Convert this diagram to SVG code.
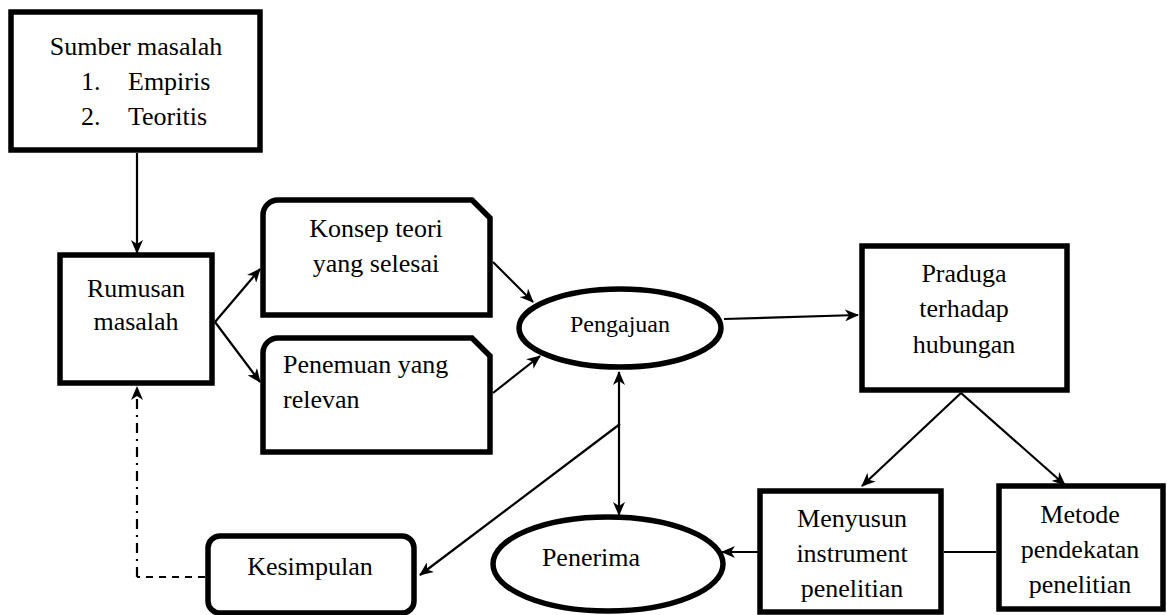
<svg xmlns="http://www.w3.org/2000/svg" width="1167" height="615" viewBox="0 0 1167 615">
  <style>
    .box{fill:#fff;stroke:#000;stroke-width:5.5}
    .c{text-anchor:middle}
    .ln{fill:none;stroke:#000;stroke-width:2.2}
  </style>
  <defs>
    <marker id="ah" viewBox="0 0 14 12" refX="13" refY="6" markerWidth="14" markerHeight="12" markerUnits="userSpaceOnUse" orient="auto-start-reverse">
      <path d="M0,0 L14,6 L0,12 L4,6 Z" fill="#000"/>
    </marker>
  </defs>
  <rect width="1167" height="615" fill="#fff"/>

  <g id="connectors">
    <line class="ln" x1="137" y1="153" x2="137" y2="253" marker-end="url(#ah)"/>
    <line class="ln" x1="215" y1="322" x2="260" y2="269" marker-end="url(#ah)"/>
    <line class="ln" x1="215" y1="322" x2="260" y2="382" marker-end="url(#ah)"/>
    <line class="ln" x1="493" y1="262" x2="533" y2="302" marker-end="url(#ah)"/>
    <line class="ln" x1="493" y1="393" x2="540" y2="356" marker-end="url(#ah)"/>
    <line class="ln" x1="724" y1="319" x2="858" y2="315" marker-end="url(#ah)"/>
    <line class="ln" x1="961" y1="393" x2="862" y2="486" marker-end="url(#ah)"/>
    <line class="ln" x1="961" y1="393" x2="1065" y2="485" marker-end="url(#ah)"/>
    <line class="ln" x1="944" y1="552" x2="996" y2="552"/>
    <line class="ln" x1="758" y1="552" x2="722" y2="552" marker-end="url(#ah)"/>
    <line class="ln" x1="619" y1="372" x2="619" y2="515" marker-start="url(#ah)" marker-end="url(#ah)"/>
    <line class="ln" x1="620" y1="424" x2="420" y2="575" marker-end="url(#ah)"/>
    <line class="ln" x1="205" y1="577" x2="137" y2="577" stroke-dasharray="7,6"/>
    <line class="ln" x1="137" y1="577" x2="137" y2="387" stroke-dasharray="10,6,2,6" marker-end="url(#ah)"/>
  </g>

  <g font-family="Liberation Serif, Times New Roman, serif" font-size="26" fill="#000">
  <g id="sumber">
    <rect class="box" x="11" y="12" width="249" height="138"/>
    <text class="c" x="136" y="55">Sumber masalah</text>
    <text x="81" y="90">1.</text>
    <text x="128" y="90">Empiris</text>
    <text x="81" y="125">2.</text>
    <text x="128" y="125">Teoritis</text>
  </g>

  <g id="rumusan">
    <rect class="box" x="60" y="255" width="152" height="128"/>
    <text class="c" x="136" y="297">Rumusan</text>
    <text class="c" x="136" y="330">masalah</text>
  </g>

  <g id="konsep">
    <path class="box" d="M263,315 L263,215 A15,15 0 0 1 278,200 L472,200 L490,218 L490,315 Z"/>
    <text class="c" x="376" y="237">Konsep teori</text>
    <text class="c" x="376" y="272">yang selesai</text>
  </g>

  <g id="penemuan">
    <path class="box" d="M263,452 L263,353 A15,15 0 0 1 278,338 L472,338 L490,356 L490,452 Z"/>
    <text x="283" y="373">Penemuan yang</text>
    <text x="283" y="408">relevan</text>
  </g>

  <g id="pengajuan">
    <ellipse class="box" cx="620" cy="328" rx="101" ry="39"/>
    <text class="c" x="620" y="332" font-size="24">Pengajuan</text>
  </g>

  <g id="praduga">
    <rect class="box" x="862" y="246" width="205" height="144"/>
    <text class="c" x="964" y="282">Praduga</text>
    <text class="c" x="964" y="317">terhadap</text>
    <text class="c" x="964" y="353">hubungan</text>
  </g>

  <g id="menyusun">
    <rect class="box" x="760" y="491" width="181" height="121"/>
    <text class="c" x="852" y="527">Menyusun</text>
    <text class="c" x="852" y="562">instrument</text>
    <text class="c" x="852" y="597">penelitian</text>
  </g>

  <g id="metode">
    <rect class="box" x="999" y="486" width="164" height="123"/>
    <text class="c" x="1080" y="523">Metode</text>
    <text class="c" x="1080" y="558">pendekatan</text>
    <text class="c" x="1080" y="593">penelitian</text>
  </g>

  <g id="penerima">
    <ellipse class="box" cx="608" cy="564" rx="115" ry="47"/>
    <text class="c" x="591" y="566">Penerima</text>
  </g>

  <g id="kesimpulan">
    <rect class="box" x="208" y="536" width="206" height="77" rx="12"/>
    <text class="c" x="310" y="575">Kesimpulan</text>
  </g>
  </g>
</svg>
